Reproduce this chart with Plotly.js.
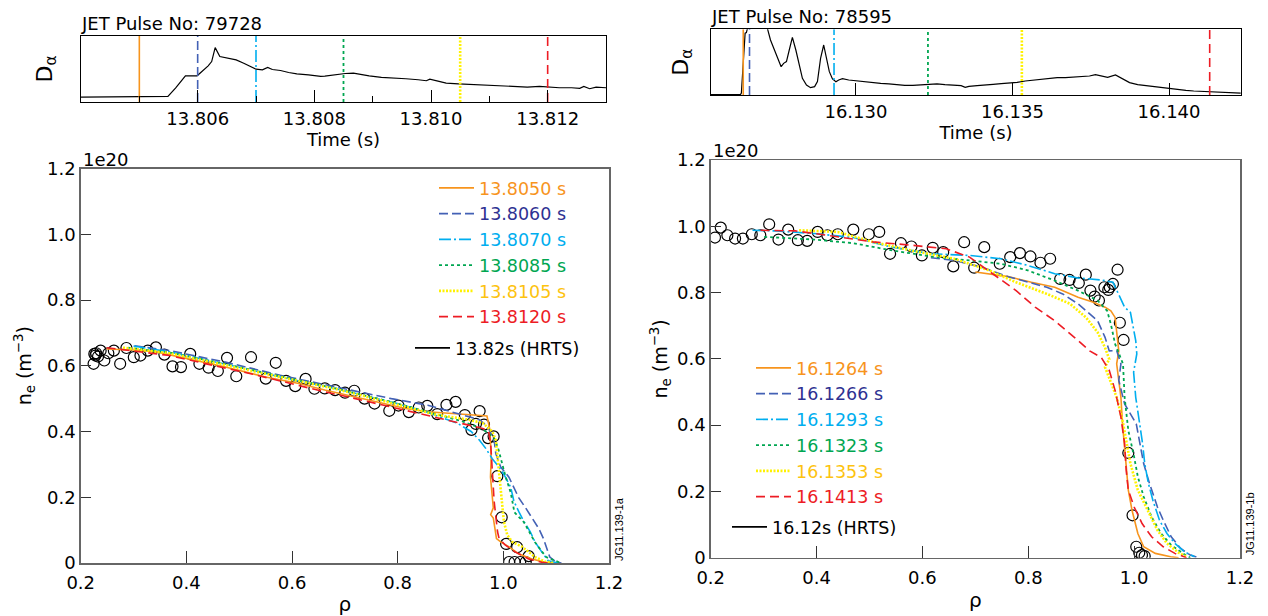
<!DOCTYPE html>
<html><head><meta charset="utf-8">
<script src="https://cdn.plot.ly/plotly-3.0.1.min.js"></script>
<style>html,body{margin:0;padding:0;background:#fff}#chart{width:1268px;height:616px}</style>
</head><body><div id="chart"></div>
<script>
// ---------------- DATA ----------------
// Pulse numbers / HRTS labels
const pulseLeft = 79728;
const pulseRight = 78595;
const hrtsLabelLeft = '13.82s (HRTS)';
const hrtsLabelRight = '16.12s (HRTS)';

// Profile times (legend + vertical markers on D-alpha traces)
const timesLeft = [13.8050, 13.8060, 13.8070, 13.8085, 13.8105, 13.8120];
const timesRight = [16.1264, 16.1266, 16.1293, 16.1323, 16.1353, 16.1413];

// D-alpha time-axis ticks
const daTicksLeft = [13.806, 13.808, 13.810, 13.812];
const daMinorLeft = [13.805, 13.807, 13.809, 13.811];
const daTicksRight = [16.130, 16.135, 16.140];

// D-alpha signal, pulse 79728 (normalised units)
const daTimeLeft = [13.8040,13.80499,13.80549,13.80562,13.80572,13.80579,13.80599,13.80610,13.80618,13.80624,13.80630,13.80638,13.80652,13.80666,13.80679,13.80693,13.80700,13.80711,13.80720,13.80728,13.80742,13.80756,13.80770,13.80790,13.80811,13.80818,13.80839,13.80853,13.80867,13.80881,13.80894,13.80915,13.80936,13.80957,13.80978,13.80992,13.80998,13.81012,13.81026,13.81047,13.81061,13.81082,13.81102,13.81123,13.81144,13.81165,13.81186,13.81200,13.81220,13.81241,13.81255,13.81262,13.81272,13.81283,13.81300];
const daValLeft = [0.075,0.080,0.085,0.211,0.312,0.397,0.397,0.487,0.548,0.613,0.824,0.688,0.663,0.638,0.588,0.528,0.497,0.487,0.523,0.492,0.477,0.447,0.427,0.412,0.387,0.392,0.422,0.432,0.437,0.422,0.397,0.372,0.367,0.352,0.337,0.322,0.347,0.312,0.286,0.276,0.271,0.256,0.251,0.241,0.236,0.226,0.236,0.226,0.216,0.216,0.206,0.236,0.201,0.226,0.216];

// D-alpha signal, pulse 78595 (normalised units, clipped at top of panel)
const daTimeRight = [16.12537,16.12631,16.12634,16.12641,16.12646,16.12650,16.12654,16.12669,16.12708,16.12718,16.12727,16.12740,16.12752,16.12761,16.12769,16.12778,16.12787,16.12797,16.12808,16.12817,16.12829,16.12842,16.12855,16.12868,16.12877,16.12887,16.12897,16.12906,16.12915,16.12925,16.12936,16.12945,16.12957,16.12977,16.13002,16.13028,16.13054,16.13079,16.13105,16.13131,16.13156,16.13182,16.13208,16.13233,16.13259,16.13284,16.13310,16.13336,16.13349,16.13361,16.13387,16.13413,16.13438,16.13464,16.13490,16.13515,16.13541,16.13567,16.13592,16.13618,16.13643,16.13669,16.13695,16.13720,16.13746,16.13765,16.13784,16.13804,16.13829,16.13849,16.13874,16.13900,16.13926,16.13951,16.13977,16.14003,16.14028,16.14054,16.14079,16.14105,16.14131,16.14169,16.14229];
const daValRight = [0.005,0.005,0.03,0.60,0.94,0.95,1.05,1.3,1.3,1.0,0.838,0.685,0.558,0.431,0.482,0.508,0.685,0.878,0.685,0.482,0.254,0.152,0.112,0.127,0.203,0.558,0.761,0.558,0.355,0.244,0.203,0.228,0.249,0.228,0.213,0.198,0.188,0.178,0.168,0.152,0.147,0.147,0.152,0.157,0.168,0.157,0.152,0.142,0.117,0.132,0.142,0.157,0.162,0.173,0.178,0.193,0.213,0.228,0.239,0.254,0.264,0.264,0.274,0.274,0.289,0.310,0.289,0.269,0.305,0.254,0.188,0.157,0.142,0.122,0.112,0.096,0.081,0.071,0.061,0.056,0.051,0.041,0.030];

// Pulse 79728 density profiles (rho, ne in 1e20 m^-3)
const rhoL1 = [0.249,0.299,0.341,0.404,0.474,0.550,0.613,0.662,0.718,0.774,0.815,0.857,0.899,0.941,0.969,0.9745,0.977,0.9757,0.979,0.981,0.976,0.981,0.987,0.995,1.011,1.029,1.054,1.079,1.095];
const neL1  = [0.651,0.648,0.643,0.621,0.596,0.566,0.546,0.526,0.506,0.485,0.470,0.460,0.455,0.450,0.447,0.405,0.323,0.261,0.209,0.168,0.147,0.137,0.074,0.064,0.049,0.028,0.012,0.002,0.0];
const rhoL2 = [0.302,0.369,0.440,0.474,0.578,0.683,0.788,0.857,0.892,0.927,0.9545,0.970,0.9826,0.9857,0.995,1.0106,1.020,1.029,1.042,1.054,1.067,1.076,1.082,1.088,1.101,1.11];
const neL2  = [0.661,0.646,0.622,0.611,0.571,0.536,0.500,0.480,0.465,0.448,0.436,0.416,0.374,0.333,0.292,0.261,0.230,0.199,0.168,0.137,0.105,0.074,0.043,0.018,0.002,0.0];
const rhoL3 = [0.300,0.369,0.474,0.578,0.683,0.788,0.850,0.913,0.939,0.9545,0.967,0.979,0.992,1.004,1.014,1.020,1.029,1.039,1.051,1.060,1.073,1.085,1.104];
const neL3  = [0.660,0.642,0.605,0.566,0.530,0.490,0.462,0.425,0.400,0.374,0.348,0.317,0.292,0.261,0.230,0.188,0.157,0.126,0.095,0.064,0.033,0.007,0.0];
const rhoL4 = [0.290,0.369,0.474,0.578,0.683,0.788,0.870,0.920,0.948,0.967,0.9826,0.990,1.004,1.014,1.021,1.039,1.060,1.081,1.109];
const neL4  = [0.655,0.640,0.605,0.568,0.531,0.490,0.455,0.432,0.416,0.400,0.380,0.350,0.264,0.214,0.154,0.124,0.063,0.018,0.0];
const rhoL5 = [0.280,0.369,0.474,0.578,0.683,0.788,0.870,0.930,0.961,0.979,0.9857,0.989,0.992,0.995,0.998,1.001,1.0075,1.017,1.036,1.048,1.060,1.079,1.095];
const neL5  = [0.655,0.638,0.602,0.565,0.529,0.487,0.452,0.437,0.426,0.400,0.374,0.323,0.271,0.230,0.178,0.126,0.085,0.064,0.049,0.033,0.018,0.004,0.0];
const rhoL6 = [0.249,0.300,0.369,0.440,0.508,0.580,0.648,0.720,0.788,0.850,0.892,0.941,0.966,0.972,0.976,0.978,0.981,0.9826,0.9857,0.989,0.992,1.004,1.023,1.048,1.073,1.085];
const neL6  = [0.655,0.645,0.631,0.605,0.581,0.553,0.526,0.500,0.475,0.452,0.435,0.417,0.407,0.400,0.364,0.292,0.230,0.188,0.137,0.095,0.074,0.054,0.033,0.012,0.002,0.0];

// Pulse 79728 HRTS points
const hrtsRhoL = [0.2244,0.2258,0.2279,0.2293,0.2328,0.2377,0.2447,0.2523,0.2628,0.2747,0.2865,0.3005,0.3131,0.3270,0.3424,0.3584,0.3738,0.3898,0.4073,0.4247,0.4421,0.4596,0.4770,0.4945,0.5224,0.5503,0.5692,0.5887,0.6061,0.6257,0.6424,0.6620,0.6815,0.7003,0.7178,0.7373,0.7562,0.7841,0.8015,0.8211,0.8399,0.8560,0.8748,0.8923,0.9097,0.9271,0.9397,0.9481,0.9551,0.9634,0.9711,0.9816,0.9886,0.9969,1.0053,1.0262,1.0479,1.0109,1.0214,1.0318,1.0423];
const hrtsNeL  = [0.606,0.636,0.631,0.638,0.628,0.646,0.616,0.638,0.646,0.606,0.654,0.626,0.631,0.646,0.656,0.634,0.598,0.596,0.636,0.606,0.594,0.584,0.624,0.568,0.626,0.561,0.609,0.554,0.538,0.560,0.530,0.531,0.526,0.518,0.524,0.500,0.485,0.463,0.479,0.459,0.473,0.478,0.453,0.481,0.490,0.450,0.405,0.423,0.462,0.421,0.380,0.385,0.264,0.139,0.058,0.048,0.021,0.003,0.003,0.003,0.003];

// Pulse 78595 density profiles
const rhoR1 = [0.700,0.762,0.806,0.850,0.894,0.923,0.945,0.956,0.964,0.967,0.971,0.967,0.971,0.975,0.978,0.982,0.985,0.989,0.996,1.007,1.018,1.040,1.069,1.084];
const neR1  = [0.862,0.848,0.831,0.816,0.786,0.771,0.756,0.745,0.725,0.685,0.624,0.585,0.535,0.484,0.404,0.334,0.264,0.204,0.143,0.073,0.033,0.013,0.003,0.0];
const rhoR2 = [0.616,0.660,0.711,0.762,0.835,0.865,0.894,0.931,0.945,0.953,0.967,0.975,0.971,0.982,1.004,1.011,1.018,1.029,1.044,1.055,1.070,1.088,1.106,1.121];
const neR2  = [0.905,0.897,0.877,0.848,0.816,0.796,0.766,0.715,0.665,0.624,0.625,0.585,0.535,0.464,0.404,0.344,0.284,0.224,0.153,0.113,0.063,0.028,0.008,0.0];
const rhoR3 = [0.279,0.323,0.396,0.469,0.543,0.616,0.689,0.748,0.799,0.850,0.894,0.938,0.960,0.967,0.982,0.993,0.998,1.003,1.005,0.999,1.003,1.011,1.016,1.020,1.027,1.036,1.048,1.062,1.077,1.095,1.114];
const neR3  = [0.988,0.986,0.978,0.966,0.937,0.917,0.912,0.902,0.882,0.857,0.844,0.838,0.831,0.806,0.756,0.740,0.700,0.655,0.615,0.560,0.484,0.404,0.344,0.284,0.224,0.170,0.113,0.073,0.043,0.018,0.003];
const rhoR4 = [0.301,0.396,0.469,0.543,0.616,0.689,0.748,0.799,0.850,0.894,0.931,0.949,0.956,0.964,0.975,0.979,0.982,0.989,1.000,1.007,1.018,1.033,1.051,1.070,1.092,1.106];
const neR4  = [0.968,0.960,0.949,0.927,0.909,0.897,0.887,0.867,0.836,0.806,0.776,0.745,0.705,0.645,0.604,0.585,0.484,0.384,0.304,0.244,0.184,0.123,0.073,0.038,0.013,0.0];
const rhoR5 = [0.367,0.440,0.506,0.579,0.660,0.726,0.777,0.835,0.879,0.909,0.931,0.945,0.953,0.945,0.967,0.978,0.985,0.993,1.007,1.026,1.044,1.062,1.084,1.099];
const neR5  = [0.988,0.983,0.953,0.927,0.902,0.867,0.831,0.796,0.766,0.725,0.680,0.634,0.599,0.575,0.484,0.414,0.354,0.284,0.204,0.143,0.083,0.043,0.015,0.003];
const rhoR6 = [0.294,0.360,0.433,0.506,0.579,0.645,0.689,0.733,0.777,0.813,0.850,0.887,0.916,0.938,0.953,0.964,0.975,0.982,0.985,0.989,1.000,1.015,1.033,1.055,1.077,1.099];
const neR6  = [0.988,0.986,0.970,0.953,0.943,0.932,0.907,0.857,0.806,0.756,0.715,0.665,0.624,0.604,0.565,0.505,0.424,0.344,0.264,0.204,0.153,0.103,0.063,0.033,0.013,0.0];

// Pulse 78595 HRTS points
const hrtsRhoR = [0.2081,0.2190,0.2315,0.2461,0.2608,0.2776,0.2937,0.3105,0.3281,0.3464,0.3647,0.3823,0.4020,0.4204,0.4401,0.4694,0.4987,0.5184,0.5389,0.5594,0.5792,0.5990,0.6195,0.6392,0.6583,0.6788,0.6978,0.7168,0.7461,0.7659,0.7842,0.8040,0.8230,0.8413,0.8603,0.8779,0.8955,0.9087,0.9174,0.9255,0.9335,0.9438,0.9511,0.9540,0.9599,0.9687,0.9730,0.9800,0.9890,0.9970,1.0040,1.0097,1.0148,1.0199];
const hrtsNeR  = [0.966,0.996,0.973,0.963,0.963,0.976,0.973,1.006,0.960,0.990,0.958,0.956,0.983,0.973,0.976,0.990,0.976,0.983,0.917,0.949,0.939,0.912,0.935,0.922,0.879,0.952,0.875,0.937,0.887,0.907,0.919,0.909,0.890,0.902,0.841,0.838,0.829,0.854,0.806,0.788,0.776,0.816,0.808,0.816,0.826,0.869,0.709,0.657,0.316,0.128,0.033,0.015,0.008,0.005];

// Axis ticks
const rhoTicks = [0.2,0.4,0.6,0.8,1.0,1.2];
const rhoTickText = ['0.2','0.4','0.6','0.8','1.0','1.2'];
const neTicks = [0,0.2,0.4,0.6,0.8,1.0,1.2];
const neTickText = ['0','0.2','0.4','0.6','0.8','1.0','1.2'];

// ---------------- STYLE ----------------
const FONT = '"DejaVu Sans", "Liberation Sans", Arial, sans-serif';
const lineColors = ['#f7941d','#4361b5','#00aeef','#00a651','#fff200','#ed1c24'];
const textColors = ['#f7941d','#2e3192','#00aeef','#00a651','#fdc30f','#ed1c24'];
const dashes = ['solid','9px,4px','12px,3px,2px,3px','3px,3px','2px,1.5px','9px,5px'];
const widths = [1.6,1.6,1.6,1.8,2.6,1.6];

const leftProfiles = [[rhoL1,neL1],[rhoL2,neL2],[rhoL3,neL3],[rhoL4,neL4],[rhoL5,neL5],[rhoL6,neL6]];
const rightProfiles = [[rhoR1,neR1],[rhoR2,neR2],[rhoR3,neR3],[rhoR4,neR4],[rhoR5,neR5],[rhoR6,neR6]];

const traces = [];
// D-alpha traces
traces.push({x: daTimeLeft, y: daValLeft, xaxis:'x', yaxis:'y', mode:'lines', line:{color:'#000', width:1.2}, showlegend:false, hoverinfo:'skip'});
traces.push({x: daTimeRight, y: daValRight, xaxis:'x2', yaxis:'y2', mode:'lines', line:{color:'#000', width:1.2}, showlegend:false, hoverinfo:'skip'});
timesLeft.forEach((t,i)=>traces.push({x:[t,t], y:[0,1], xaxis:'x', yaxis:'y', mode:'lines', line:{color:lineColors[i], width:widths[i], dash:dashes[i]}, showlegend:false, hoverinfo:'skip'}));
timesRight.forEach((t,i)=>traces.push({x:[t,t], y:[0,1], xaxis:'x2', yaxis:'y2', mode:'lines', line:{color:lineColors[i], width:widths[i], dash:dashes[i]}, showlegend:false, hoverinfo:'skip'}));

// HRTS points
traces.push({x: hrtsRhoL, y: hrtsNeL, xaxis:'x3', yaxis:'y3', mode:'markers', marker:{symbol:'circle-open', size:11, color:'#000', line:{width:1.2, color:'#000'}}, showlegend:false, hoverinfo:'skip'});
traces.push({x: hrtsRhoR, y: hrtsNeR, xaxis:'x4', yaxis:'y4', mode:'markers', marker:{symbol:'circle-open', size:11, color:'#000', line:{width:1.2, color:'#000'}}, showlegend:false, hoverinfo:'skip'});

// profiles
leftProfiles.forEach((p,i)=>traces.push({x:p[0], y:p[1], xaxis:'x3', yaxis:'y3', mode:'lines', legend:'legend',
  name:`<span style="color:${textColors[i]}">${timesLeft[i].toFixed(4)} s</span>`,
  line:{color:lineColors[i], width:widths[i], dash:dashes[i]}, hoverinfo:'skip'}));
rightProfiles.forEach((p,i)=>traces.push({x:p[0], y:p[1], xaxis:'x4', yaxis:'y4', mode:'lines', legend:'legend2',
  name:`<span style="color:${textColors[i]}">${timesRight[i].toFixed(4)} s</span>`,
  line:{color:lineColors[i], width:widths[i], dash:dashes[i]}, hoverinfo:'skip'}));

// HRTS legend entries (line symbol as in the original key)
traces.push({x:[null], y:[null], xaxis:'x3', yaxis:'y3', mode:'lines', legend:'legend3', name:hrtsLabelLeft, line:{color:'#000', width:1.6}});
traces.push({x:[null], y:[null], xaxis:'x4', yaxis:'y4', mode:'lines', legend:'legend4', name:hrtsLabelRight, line:{color:'#000', width:1.6}});

const W = 1268, H = 616;
const px = v => v / W;
const py = v => (H - v) / H;

const daX = (dom, range, tickvals, minorvals) => Object.assign({
  domain: dom, range: range, tickvals: tickvals, ticktext: tickvals.map(v => v.toFixed(3)),
  ticks: 'inside', ticklen: 12, tickwidth: 1, tickcolor: '#000',
  showline: true, mirror: true, linecolor: '#000', linewidth: 1,
  showgrid: false, zeroline: false, fixedrange: true,
  tickfont: {size: 18, color: '#000'},
  title: {text: 'Time (s)', font: {size: 18, color: '#000'}, standoff: 3}
}, minorvals ? {minor: {tickmode: 'array', tickvals: minorvals, ticks: 'inside', ticklen: 6, tickcolor: '#000', tickwidth: 1, showgrid: false}} : {});
const daY = (dom, standoff) => ({
  domain: dom, range: [0, 1], showticklabels: false, ticks: '',
  showline: true, mirror: true, linecolor: '#000', linewidth: 1,
  showgrid: false, zeroline: false, fixedrange: true,
  title: {text: 'D<sub>α</sub>', font: {size: 22, color: '#000'}, standoff: standoff}
});
const mainX = (dom) => ({
  domain: dom, range: [0.2, 1.2], tickvals: rhoTicks, ticktext: rhoTickText,
  ticks: 'inside', ticklen: 12, tickwidth: 1, tickcolor: '#333',
  showline: true, mirror: true, linecolor: '#666', linewidth: 1.5,
  showgrid: false, zeroline: false, fixedrange: true,
  tickfont: {size: 18, color: '#000'}, ticklabelstandoff: 3,
  title: {text: 'ρ', font: {size: 20, color: '#000'}, standoff: 6}
});
const mainY = (dom, standoff) => ({
  domain: dom, range: [0, 1.2], tickvals: neTicks, ticktext: neTickText,
  ticks: 'inside', ticklen: 10, tickwidth: 1, tickcolor: '#333',
  showline: true, mirror: true, linecolor: '#666', linewidth: 1.5,
  showgrid: false, zeroline: false, fixedrange: true,
  tickfont: {size: 18, color: '#000'},
  title: {text: 'n<sub>e</sub> (m<sup>−3</sup>)', font: {size: 19, color: '#000'}, standoff: standoff}
});

const legendBase = {bgcolor: 'rgba(0,0,0,0)', borderwidth: 0, xanchor: 'left', yanchor: 'top',
  font: {size: 17.5, family: FONT, color: '#000'}, itemwidth: 35, tracegroupgap: 0, itemclick: false, itemdoubleclick: false};

const layout = {
  width: W, height: H, margin: {l: 0, r: 0, t: 0, b: 0},
  paper_bgcolor: '#fff', plot_bgcolor: '#fff',
  font: {family: FONT, size: 18, color: '#000'},
  showlegend: true,
  xaxis: daX([px(81), px(606)], [13.804, 13.813], daTicksLeft, daMinorLeft),
  yaxis: daY([py(102), py(36)], 21),
  xaxis2: Object.assign(daX([px(711), px(1241)], [16.12537, 16.1423], daTicksRight, null), {anchor: 'y2'}),
  yaxis2: Object.assign(daY([py(95), py(29.3)], 15), {anchor: 'x2'}),
  xaxis3: Object.assign(mainX([px(80.7), px(609)]), {anchor: 'y3'}),
  yaxis3: Object.assign(mainY([py(563), py(168.5)], 10), {anchor: 'x3'}),
  xaxis4: Object.assign(mainX([px(710.7), px(1240)]), {anchor: 'y4'}),
  yaxis4: Object.assign(mainY([py(557.7), py(160)], 4), {anchor: 'x4'}),
  legend: Object.assign({}, legendBase, {x: px(434), y: py(170)}),
  legend2: Object.assign({}, legendBase, {x: px(751), y: py(350)}),
  legend3: Object.assign({}, legendBase, {x: px(410), y: py(330)}),
  legend4: Object.assign({}, legendBase, {x: px(727), y: py(509)}),
  annotations: [
    {text: `JET Pulse No: ${pulseLeft}`, xref: 'x domain', yref: 'y domain', x: 0, y: 1, xanchor: 'left', yanchor: 'bottom', showarrow: false, font: {size: 18}, xshift: -2, yshift: 0},
    {text: `JET Pulse No: ${pulseRight}`, xref: 'x2 domain', yref: 'y2 domain', x: 0, y: 1, xanchor: 'left', yanchor: 'bottom', showarrow: false, font: {size: 18}, xshift: -2, yshift: 0},
    {text: '1e20', xref: 'x3 domain', yref: 'y3 domain', x: 0, y: 1, xanchor: 'left', yanchor: 'bottom', showarrow: false, font: {size: 18}, yshift: -3},
    {text: '1e20', xref: 'x4 domain', yref: 'y4 domain', x: 0, y: 1, xanchor: 'left', yanchor: 'bottom', showarrow: false, font: {size: 18}, yshift: -3},
    {text: 'JG11.139-1a', xref: 'x3 domain', yref: 'y3 domain', x: 1, y: 0, xanchor: 'left', yanchor: 'bottom', textangle: -90, showarrow: false, font: {size: 11, family: '"Liberation Sans", Arial, sans-serif'}, xshift: 2},
    {text: 'JG11.139-1b', xref: 'x4 domain', yref: 'y4 domain', x: 1, y: 0, xanchor: 'left', yanchor: 'bottom', textangle: -90, showarrow: false, font: {size: 11, family: '"Liberation Sans", Arial, sans-serif'}, xshift: 2}
  ]
};

Plotly.newPlot('chart', traces, layout, {staticPlot: true, displayModeBar: false});
</script>
</body></html>
